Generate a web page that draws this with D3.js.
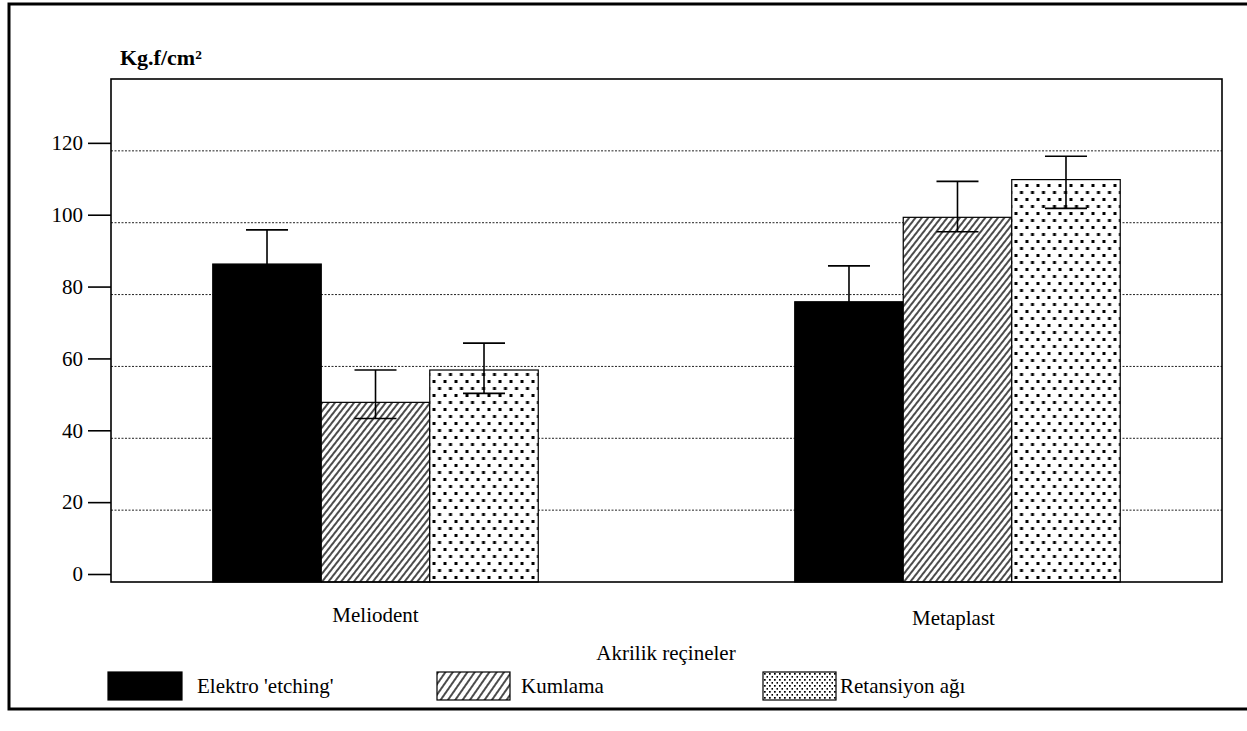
<!DOCTYPE html>
<html>
<head>
<meta charset="utf-8">
<script src="https://cdn.jsdelivr.net/npm/d3@7"></script>
<style>
  html, body { margin: 0; padding: 0; background: #fff; }
  svg { display: block; }
  svg text { font-family: "Liberation Serif", "Tinos", "Times New Roman", Times, "DejaVu Serif", serif !important; fill: #000; }
</style>
</head>
<body>
<svg id="chart" width="1247" height="731"></svg>
<script>
// ---- data ----
const categories = ["Meliodent", "Metaplast"];
const seriesNames = ["Elektro 'etching'", "Kumlama", "Retansiyon ağı"];
const elektroValues = [88.5, 78];
const kumlamaValues = [50, 101.5];
const retansiyonValues = [59, 112];
const elektroHigh = [98, 88];
const elektroLow = [79, 68];
const kumlamaHigh = [59, 111.5];
const kumlamaLow = [45.5, 97.5];
const retansiyonHigh = [66.5, 118.5];
const retansiyonLow = [52.5, 104];
const yTicks = [0, 20, 40, 60, 80, 100, 120];
const yMax = 140;
const yTitle = "Kg.f/cm²";
const xTitle = "Akrilik reçineler";

// ---- layout ----
const svg = d3.select("#chart");
const plot = { left: 111, right: 1222, top: 79, bottom: 582 };

const seriesData = [
  { name: seriesNames[0], values: elektroValues, hi: elektroHigh, lo: elektroLow, fill: "#000", stroke: "#000" },
  { name: seriesNames[1], values: kumlamaValues, hi: kumlamaHigh, lo: kumlamaLow, fill: "url(#hatch)", stroke: "#000" },
  { name: seriesNames[2], values: retansiyonValues, hi: retansiyonHigh, lo: retansiyonLow, fill: "url(#dots)", stroke: "#000" }
];

const y = d3.scaleLinear().domain([0, yMax]).range([plot.bottom, plot.top]);
const x0 = d3.scalePoint().domain(categories).range([plot.left, plot.right]).padding(0.4545);
const barW = 108.5;
const x1 = d3.scaleBand().domain(seriesNames).range([-1.5 * barW, 1.5 * barW]).padding(0);

// ---- patterns ----
const defs = svg.append("defs");
const hatch = defs.append("pattern").attr("id", "hatch")
  .attr("patternUnits", "userSpaceOnUse").attr("width", 5).attr("height", 10)
  .attr("patternTransform", "rotate(38)");
hatch.append("rect").attr("width", 5).attr("height", 10).attr("fill", "#fff");
hatch.append("line").attr("x1", 1).attr("y1", 0).attr("x2", 1).attr("y2", 10)
  .attr("stroke", "#000").attr("stroke-width", 1.4);

const hatchL = defs.append("pattern").attr("id", "hatchL")
  .attr("patternUnits", "userSpaceOnUse").attr("width", 6).attr("height", 10)
  .attr("patternTransform", "rotate(35)");
hatchL.append("rect").attr("width", 6).attr("height", 10).attr("fill", "#fff");
hatchL.append("line").attr("x1", 1).attr("y1", 0).attr("x2", 1).attr("y2", 10)
  .attr("stroke", "#000").attr("stroke-width", 1.4);

const dots = defs.append("pattern").attr("id", "dots")
  .attr("patternUnits", "userSpaceOnUse").attr("width", 11).attr("height", 14);
dots.append("rect").attr("width", 11).attr("height", 14).attr("fill", "#fff");
dots.append("rect").attr("x", 2).attr("y", 2).attr("width", 3).attr("height", 3).attr("fill", "#000");
dots.append("rect").attr("x", 7.5).attr("y", 9).attr("width", 3).attr("height", 3).attr("fill", "#000");

const dotsL = defs.append("pattern").attr("id", "dotsL")
  .attr("patternUnits", "userSpaceOnUse").attr("width", 5).attr("height", 6);
dotsL.append("rect").attr("width", 5).attr("height", 6).attr("fill", "#fff");
dotsL.append("rect").attr("x", 1).attr("y", 1).attr("width", 1.7).attr("height", 1.7).attr("fill", "#000");
dotsL.append("rect").attr("x", 3.5).attr("y", 4).attr("width", 1.7).attr("height", 1.7).attr("fill", "#000");

// ---- outer frame ----
svg.append("rect").attr("x", 9).attr("y", 4).attr("width", 1260).attr("height", 705)
  .attr("fill", "none").attr("stroke", "#000").attr("stroke-width", 3);

// ---- gridlines ----
svg.append("g").selectAll("line").data(yTicks.filter(d => d > 0)).join("line")
  .attr("x1", plot.left).attr("x2", plot.right)
  .attr("y1", d => y(d)).attr("y2", d => y(d))
  .attr("stroke", "#222").attr("stroke-width", 1).attr("stroke-dasharray", "2,1.5");

// ---- bars ----
const groups = svg.append("g").selectAll("g").data(categories).join("g")
  .attr("transform", d => `translate(${x0(d)},0)`);

groups.each(function(cat, ci) {
  const g = d3.select(this);
  seriesData.forEach(s => {
    const bx = x1(s.name);
    const v = s.values[ci];
    g.append("rect")
      .attr("x", bx).attr("y", y(v))
      .attr("width", x1.bandwidth()).attr("height", y(0) - y(v))
      .attr("fill", s.fill).attr("stroke", s.stroke).attr("stroke-width", 1.2);
  });
  seriesData.forEach(s => {
    const cx = x1(s.name) + x1.bandwidth() / 2;
    const hi = s.hi[ci], lo = s.lo[ci];
    g.append("line").attr("x1", cx).attr("x2", cx).attr("y1", y(hi)).attr("y2", y(lo))
      .attr("stroke", "#000").attr("stroke-width", 1.6);
    [hi, lo].forEach(e => {
      g.append("line").attr("x1", cx - 21).attr("x2", cx + 21).attr("y1", y(e)).attr("y2", y(e))
        .attr("stroke", "#000").attr("stroke-width", 1.6);
    });
  });
});

// ---- plot box ----
svg.append("rect").attr("x", plot.left).attr("y", plot.top)
  .attr("width", plot.right - plot.left).attr("height", plot.bottom - plot.top)
  .attr("fill", "none").attr("stroke", "#000").attr("stroke-width", 1.6);

// ---- y axis (ticks printed slightly above the gridlines, as in the source) ----
const yAxis = d3.axisLeft(y).tickValues(yTicks).tickSize(23).tickPadding(5).tickFormat(d3.format("d"));
const ag = svg.append("g").attr("transform", `translate(${plot.left},-8)`).call(yAxis);
ag.attr("font-family", null);
ag.select(".domain").remove();
ag.selectAll(".tick line").attr("stroke", "#000").attr("stroke-width", 1.6);
ag.selectAll(".tick text").attr("font-size", 21);

// ---- y title ----
svg.append("text").attr("x", 120).attr("y", 65)
  .attr("font-size", 22).attr("font-weight", "bold").text(yTitle);

// ---- category labels ----
svg.append("g").selectAll("text").data(categories).join("text")
  .attr("x", (d, i) => x0(d) - (i === 1 ? 4 : 0)).attr("y", (d, i) => i === 1 ? 625 : 622)
  .attr("text-anchor", "middle").attr("font-size", 21).text(d => d);

// ---- x title ----
svg.append("text").attr("x", 666).attr("y", 660)
  .attr("text-anchor", "middle").attr("font-size", 21).text(xTitle);

// ---- legend ----
const legendX = [108, 437, 763];
const legendFill = ["#000", "url(#hatchL)", "url(#dotsL)"];
const lg = svg.append("g").selectAll("g").data(seriesNames).join("g")
  .attr("transform", (d, i) => `translate(${legendX[i]},672)`);
lg.append("rect").attr("width", (d, i) => i === 0 ? 74 : 73).attr("height", 28)
  .attr("fill", (d, i) => legendFill[i]).attr("stroke", "#000").attr("stroke-width", 1.2);
lg.append("text").attr("x", (d, i) => i === 2 ? 77 : (i === 0 ? 89 : 84)).attr("y", 21)
  .attr("font-size", 21).text(d => d);
</script>
</body>
</html>
